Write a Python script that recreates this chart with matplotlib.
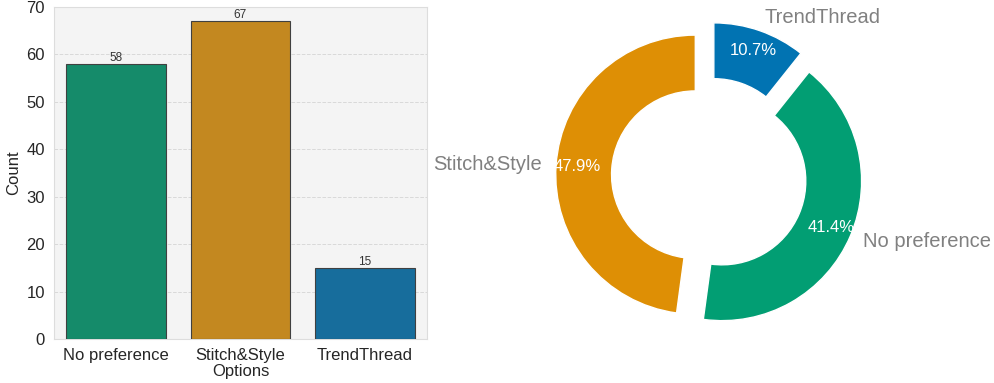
import matplotlib
matplotlib.use('Agg')
import matplotlib.pyplot as plt
import seaborn as sns
import numpy as np

# survey answers
bar_labels = ['No preference', 'Stitch&Style\nOptions', 'TrendThread']
bar_counts = [58, 67, 15]

pie_labels = ['Stitch&Style', 'No preference', 'TrendThread']
pie_counts = [67, 58, 15]

pal = sns.color_palette('colorblind')
bar_colors = [sns.desaturate(c, 0.75) for c in (pal[2], pal[1], pal[0])]
pie_colors = [pal[1], pal[2], pal[0]]

sns.set_style('whitegrid')
plt.rcParams['font.family'] = ['Arial', 'Liberation Sans', 'DejaVu Sans']

fig = plt.figure(figsize=(9.94, 3.83), dpi=100)
ax1 = fig.add_axes([0.0543, 0.115, 0.3753, 0.867])
ax2 = fig.add_axes([0.538, 0.086, 0.351, 0.911])

# bar chart
ax1.set_facecolor('#f4f4f4')
x = np.arange(len(bar_labels))
bars = ax1.bar(x, bar_counts, width=0.8, color=bar_colors,
               edgecolor='#404040', linewidth=0.8, zorder=3)
for b, v in zip(bars, bar_counts):
    ax1.text(b.get_x() + b.get_width() / 2, v, str(v), ha='center', va='bottom',
             fontsize=8.5, color='#333333')
ax1.set_xticks(x)
ax1.set_xticklabels(bar_labels, fontsize=12, linespacing=1.05)
ax1.set_ylim(0, 70)
ax1.set_xlim(-0.5, 2.5)
ax1.set_yticks(range(0, 71, 10))
ax1.tick_params(axis='y', labelsize=12, pad=3)
ax1.tick_params(axis='x', pad=3)
ax1.set_ylabel('Count', fontsize=12, labelpad=4)
ax1.grid(axis='y', linestyle='--', color='#d9d9d9', linewidth=0.7, zorder=0)
ax1.grid(axis='x', visible=False)
for s in ax1.spines.values():
    s.set_color('#dddddd')

# donut
wedges, texts, autotexts = ax2.pie(
    pie_counts, labels=pie_labels, colors=pie_colors, startangle=90,
    explode=[0.1, 0.1, 0.1], autopct='%1.1f%%', pctdistance=0.85,
    labeldistance=1.1, wedgeprops=dict(width=0.4),
    textprops=dict(fontsize=14.5, color='gray'))
for t in autotexts:
    t.set_color('white')
    t.set_fontsize(12)
ax2.set_aspect('equal')

fig.savefig('out.png', dpi=100)
